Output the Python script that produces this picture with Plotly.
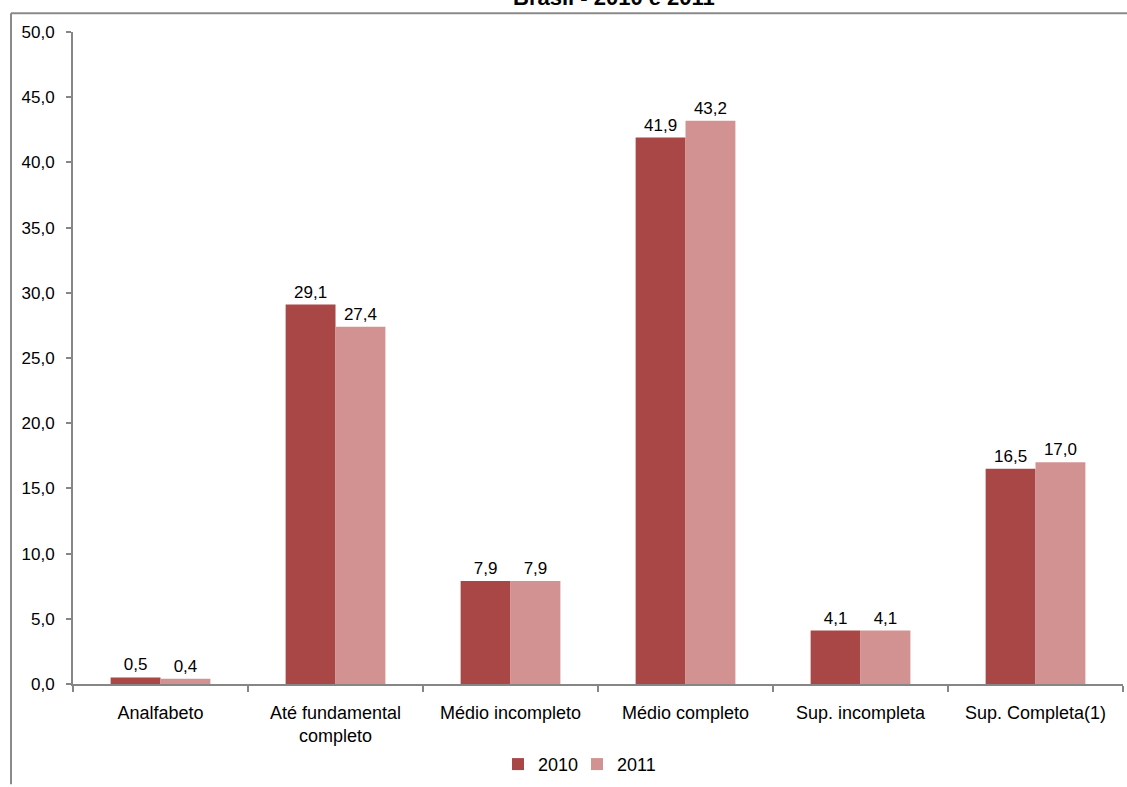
import plotly.graph_objects as go

# Categories and values (percent)
categories = [
    "Analfabeto",
    "Até fundamental<br>completo",
    "Médio incompleto",
    "Médio completo",
    "Sup. incompleta",
    "Sup. Completa(1)",
]
values_2010 = [0.5, 29.1, 7.9, 41.9, 4.1, 16.5]
values_2011 = [0.4, 27.4, 7.9, 43.2, 4.1, 17.0]
series_names = ["2010", "2011"]
y_tickvals = [0, 5, 10, 15, 20, 25, 30, 35, 40, 45, 50]

colors = ["#A94747", "#D39292"]
font_family = "Liberation Sans, Arial, sans-serif"
axis_color = "#868686"

W, H = 1127, 787
L, R, T, B = 73, 4, 32, 98
plot_w = W - L - R
plot_h = H - T - B


def px_to_paper_x(px):
    return (px - L) / plot_w


def px_to_paper_y(py):
    return (H - B - py) / plot_h


fig = go.Figure()
for name, vals, col in zip(series_names, [values_2010, values_2011], colors):
    fig.add_trace(go.Bar(
        x=categories,
        y=vals,
        name=name,
        marker=dict(color=col, line=dict(width=0)),
        texttemplate="%{y:.1f}",
        textposition="outside",
        textfont=dict(family=font_family, size=17, color="#000000"),
        cliponaxis=False,
    ))

# Outer frame lines
fig.add_shape(type="line", xref="paper", yref="paper",
              x0=px_to_paper_x(11), x1=px_to_paper_x(1130),
              y0=px_to_paper_y(13), y1=px_to_paper_y(13),
              line=dict(color="#8a8a8a", width=2))
fig.add_shape(type="line", xref="paper", yref="paper",
              x0=px_to_paper_x(11), x1=px_to_paper_x(11),
              y0=px_to_paper_y(13), y1=px_to_paper_y(790),
              line=dict(color="#8a8a8a", width=2))

# Title (last line)
fig.add_annotation(
    text="<b>Brasil - 2010 e 2011</b>",
    xref="paper", yref="paper",
    x=px_to_paper_x(614), y=px_to_paper_y(12),
    xanchor="center", yanchor="bottom",
    showarrow=False,
    font=dict(family=font_family, size=22, color="#000000"),
)

fig.update_layout(
    width=W, height=H,
    margin=dict(l=L, r=R, t=T, b=B),
    paper_bgcolor="white",
    plot_bgcolor="white",
    separators=",.",
    barmode="group",
    bargap=0.43,
    bargroupgap=0,
    showlegend=True,
    legend=dict(
        orientation="h",
        x=px_to_paper_x(577), y=px_to_paper_y(770),
        xanchor="center", yanchor="middle",
        font=dict(family=font_family, size=18, color="#000000"),
        itemwidth=30,
        entrywidth=34,
        traceorder="normal",
    ),
    xaxis=dict(
        showline=True, linecolor=axis_color, linewidth=2,
        ticks="outside", tickson="boundaries", ticklen=6,
        tickcolor=axis_color, tickwidth=1.5,
        ticklabelstandoff=11,
        tickfont=dict(family=font_family, size=18, color="#000000"),
        showgrid=False,
    ),
    yaxis=dict(
        range=[0, 50],
        tickvals=y_tickvals,
        tickformat=".1f",
        showline=True, linecolor=axis_color, linewidth=2,
        ticks="outside", ticklen=5,
        tickcolor=axis_color, tickwidth=1.5,
        ticklabelstandoff=8,
        tickfont=dict(family=font_family, size=17, color="#000000"),
        showgrid=False, zeroline=False,
    ),
)

fig.write_html("out.html")
